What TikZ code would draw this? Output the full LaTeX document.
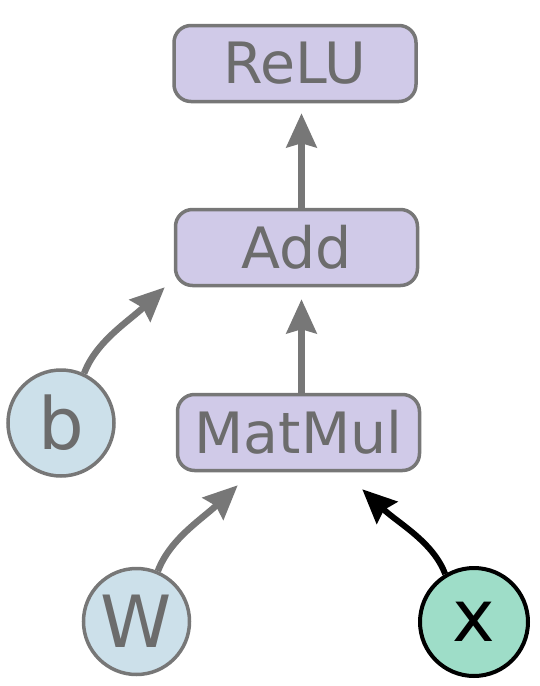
\documentclass[tikz,border=0pt]{standalone}
\usepackage{fontspec}
\setmainfont{DejaVu Sans}
\usetikzlibrary{arrows.meta}
\definecolor{boxfill}{HTML}{D0CAE8}
\definecolor{edgegray}{HTML}{777777}
\definecolor{textgray}{HTML}{6C6C6C}
\definecolor{circfill}{HTML}{CCE0EA}
\definecolor{xfill}{HTML}{9EDDC8}
\tikzset{
  opbox/.style={draw=edgegray, line width=3.5pt, fill=boxfill, rounded corners=17pt,
    minimum width=242pt, minimum height=76pt, inner sep=0pt, text=textgray,
    font=\fontsize{57}{60}\selectfont},
  varnode/.style={circle, draw=edgegray, line width=3.5pt, fill=circfill, minimum size=106pt,
    inner sep=0pt, text=textgray, font=\fontsize{72}{76}\selectfont},
  inputnode/.style={circle, draw=black, line width=4pt, fill=xfill, minimum size=108pt,
    inner sep=0pt, text=black, font=\fontsize{72}{76}\selectfont},
  flow/.style={draw=edgegray, line width=6.5pt, -{Stealth[length=34pt, width=30pt, inset=4pt]}},
  inflow/.style={draw=black, line width=6pt, -{Stealth[length=34pt, width=30pt, inset=4pt]}}
}
\begin{document}
\begin{tikzpicture}[x=1pt, y=-1pt]
\useasboundingbox (0,0) rectangle (540,686);
\node[opbox] (relu) at (295,63.5) {ReLU};
\node[opbox] (add) at (296.5,247.5) {Add};
\node[opbox] (matmul) at (298.5,432.5) {MatMul};
\node[varnode] (b) at (61,423) {b};
\node[varnode] (w) at (136.5,621.5) {W};
\node[inputnode] (x) at (474,622) {x};
\coordinate (ln) at (301.5,0);
\draw[flow, shorten >=10pt] (add.north -| ln) -- (relu.south -| ln);
\draw[flow, shorten >=12pt] (matmul.north -| ln) -- (add.south -| ln);
\coordinate (bend1) at ([xshift=-9pt]add.south west);
\coordinate (wend) at ([xshift=62pt,yshift=-13pt]matmul.south west);
\coordinate (xend) at ([xshift=-59pt,yshift=-17pt]matmul.south east);
\draw[flow] (b.65) .. controls +(12,-32) and +(-36,34) .. (bend1);
\draw[flow] (w.67) .. controls +(12,-32) and +(-36,34) .. (wend);
\draw[inflow] (x.121) .. controls +(-12,-32) and +(36,34) .. (xend);
\end{tikzpicture}
\end{document}
